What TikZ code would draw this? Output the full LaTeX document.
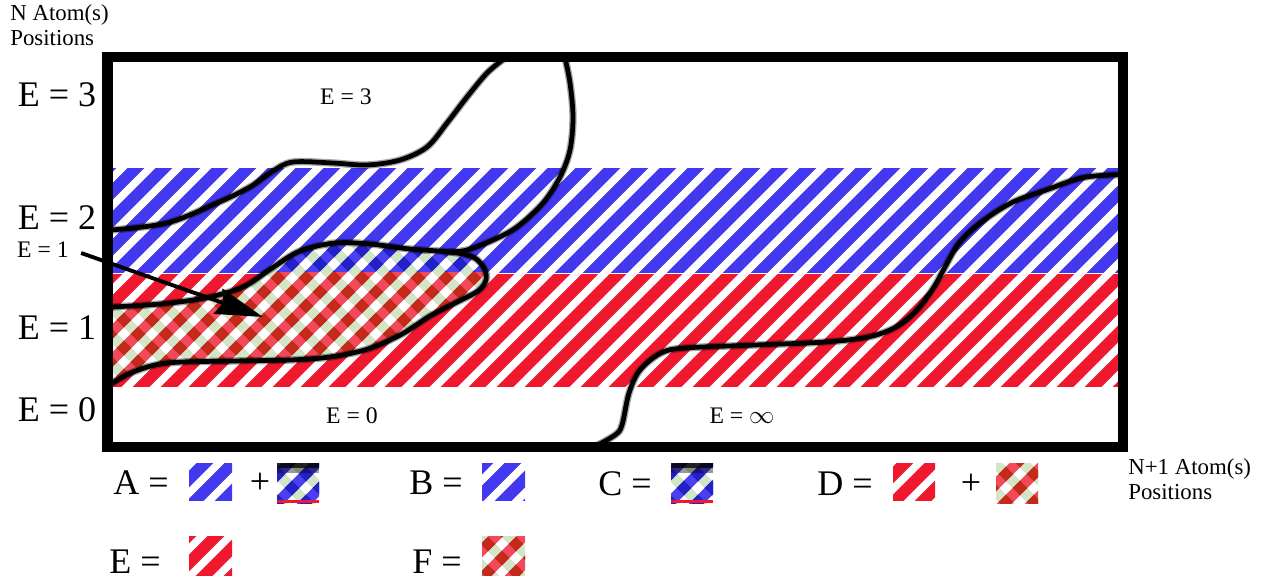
\documentclass[tikz,border=0pt]{standalone}
\usepackage{fontspec}
\setmainfont{Liberation Serif}
\usetikzlibrary{arrows.meta}
\definecolor{hatchblue}{HTML}{4238F0}
\definecolor{hatchred}{HTML}{F0182E}
\definecolor{paleblue}{HTML}{4A40F0}
\definecolor{deepblue}{HTML}{2420C8}
\definecolor{palered}{HTML}{F24A5A}
\definecolor{deepred}{HTML}{C42A1C}
\definecolor{crossgreen}{HTML}{D2E5C6}

% diagonal stripes, to be clipped
\newcommand{\nestripes}[1]{\foreach \hx in {-800,-772,...,1300} {\draw[#1] (\hx,600) -- ++(700,-700);}}
\newcommand{\nwstripes}[1]{\foreach \hx in {-800,-772,...,1300} {\draw[#1] (\hx,-100) -- ++(700,700);}}
\newcommand{\nwclip}{\clip foreach \hx in {-800,-772,...,1300} {(\hx-7.4,-100) -- (\hx+7.4,-100) -- (\hx+707.4,600) -- (\hx+692.6,600) -- cycle};}
% checked fill of the current clip: light and dark stripe colours
\newcommand{\crossfill}[2]{\fill[white] (-100,-100) rectangle (1400,700);
  \nwstripes{crosshatch,crossgreen} \nestripes{crosshatch,#1}
  \begin{scope}\nwclip \nestripes{crosshatch,#2}\end{scope}}
\newcommand{\swatchhatch}[5]{\begin{scope}\clip (#1,#2) rectangle (#3,#4); \nestripes{hatch,#5}\end{scope}}
\newcommand{\swatchcross}[6]{\begin{scope}\clip (#1,#2) rectangle (#3,#4); \crossfill{#5}{#6}\end{scope}}
\newcommand{\blobcurve}{plot[smooth, tension=0.55] coordinates {(111,307) (160,304) (205,298) (243,287)
  (272,268) (300,251) (335,243) (370,244) (410,249) (450,252) (473,257) (484,268) (486,280) (478,291)
  (455,303) (430,316) (402,334) (368,349) (330,357) (290,360) (233,361) (167,363) (133,372) (111,384)}}

\begin{document}
\begin{tikzpicture}[x=0.02cm, y=-0.02cm,
  hatch/.style={line width=6.8pt},
  crosshatch/.style={line width=6pt},
  frame/.style={draw=black, line width=5.7pt},
  boundary/.style={draw=black, line width=2.7pt, line cap=round},
  glow/.style={draw=black, line width=4.2pt, opacity=0.35, line cap=round},
  pointer/.style={draw=black, line width=2.2pt, -{Stealth[length=27pt, width=15pt, inset=3pt]}},
  bigtxt/.style={font=\fontsize{20.5}{24}\selectfont, inner sep=0pt},
  smalltxt/.style={font=\fontsize{13.5}{16}\selectfont, inner sep=0pt},
  axistxt/.style={font=\fontsize{13}{14.5}\selectfont, align=left, inner sep=0pt, anchor=north west},
]
\useasboundingbox (0,0) rectangle (1273,582);

% Bands
\begin{scope}
  \clip (112,168) rectangle (1118,272.5);
  \nestripes{hatch, hatchblue}
\end{scope}
\begin{scope}
  \clip (112,274) rectangle (1118,386);
  \nestripes{hatch, hatchred}
\end{scope}

% E = 1 region
\begin{scope}
  \clip \blobcurve -- cycle;
  \begin{scope}
    \clip (100,200) rectangle (500,272.5);
    \crossfill{paleblue}{deepblue}
  \end{scope}
  \begin{scope}
    \clip (100,272.5) rectangle (500,400);
    \crossfill{palered}{deepred}
  \end{scope}
\end{scope}

% Boundaries
\draw[glow] \blobcurve;
\draw[boundary] \blobcurve;
\foreach \sty in {glow, boundary} {
  \draw[\sty] plot[smooth, tension=0.55] coordinates {(111,230) (167,223) (217,203) (250,187) (273,171)
    (293,162) (333,163) (367,165) (400,160) (427,147) (447,123) (467,97) (487,73) (505,58)};
  \draw[\sty] plot[smooth, tension=0.55] coordinates {(565,58) (570,83) (573,117) (570,150) (560,177)
    (543,203) (517,227) (493,240) (467,250) (450,252)};
  \draw[\sty] plot[smooth, tension=0.55] coordinates {(594,447) (615,435) (622,425) (629,393) (640,370)
    (661,353) (685,348) (755,345) (825,342) (868,337) (896,327) (917,310) (934,287) (945,267) (959,243)
    (980,223) (1011,203) (1046,190) (1081,178) (1110,175) (1120,175)};
}

% Frame
\draw[frame] (107.5,57) rectangle (1122.5,446.5);

% Energy labels
\node[bigtxt] (lvlthree) at (57,95) {E = 3};
\node[bigtxt] (lvltwo) at (57,218) {E = 2};
\node[bigtxt] (lvlone) at (57,328) {E = 1};
\node[bigtxt] (lvlzero) at (57,410) {E = 0};
\node[smalltxt] (regthree) at (346,97) {E = 3};
\node[smalltxt] (regzero) at (352,416) {E = 0};
\node[smalltxt] (reginf) at (742,416) {E = $\infty$};
\node[smalltxt] (lblone) at (43,250) {E = 1};
\node[axistxt] (naxis) at (10,4) {N Atom(s)\\Positions};
\node[axistxt] (nplusaxis) at (1128,458) {N+1 Atom(s)\\Positions};

\coordinate (arrowtip) at (263,317);
\draw[pointer] ([shift={(12,3)}]lblone.east) -- (arrowtip);

% Legend
\node[bigtxt] (keya) at (141,483) {A =};
\node[bigtxt] (plusa) at (260,483) {+};
\node[bigtxt] (keyb) at (436,483) {B =};
\node[bigtxt] (keyc) at (625,484) {C =};
\node[bigtxt] (keyd) at (845,484) {D =};
\node[bigtxt] (plusd) at (971,484) {+};
\node[bigtxt] (keye) at (135,562) {E =};
\node[bigtxt] (keyf) at (437,562) {F =};

\swatchhatch{189}{463}{232}{500}{hatchblue}
\swatchcross{277}{463}{319}{503}{paleblue}{deepblue}
\fill[black, opacity=0.85] (277,463) rectangle (319,468);
\fill[black, opacity=0.4] (277,468) rectangle (319,473);
\fill[hatchred] (277,500) rectangle (319,503);
\swatchhatch{482}{463}{525}{500}{hatchblue}
\swatchcross{671}{463}{713}{503}{paleblue}{deepblue}
\fill[black, opacity=0.85] (671,463) rectangle (713,468);
\fill[black, opacity=0.4] (671,468) rectangle (713,473);
\fill[hatchred] (671,500) rectangle (713,503);
\swatchhatch{893}{463}{935}{500}{hatchred}
\swatchcross{996}{463}{1038}{503}{palered}{deepred}
\swatchhatch{189}{536}{232}{575}{hatchred}
\swatchcross{482}{536}{525}{575}{palered}{deepred}
\end{tikzpicture}
\end{document}
